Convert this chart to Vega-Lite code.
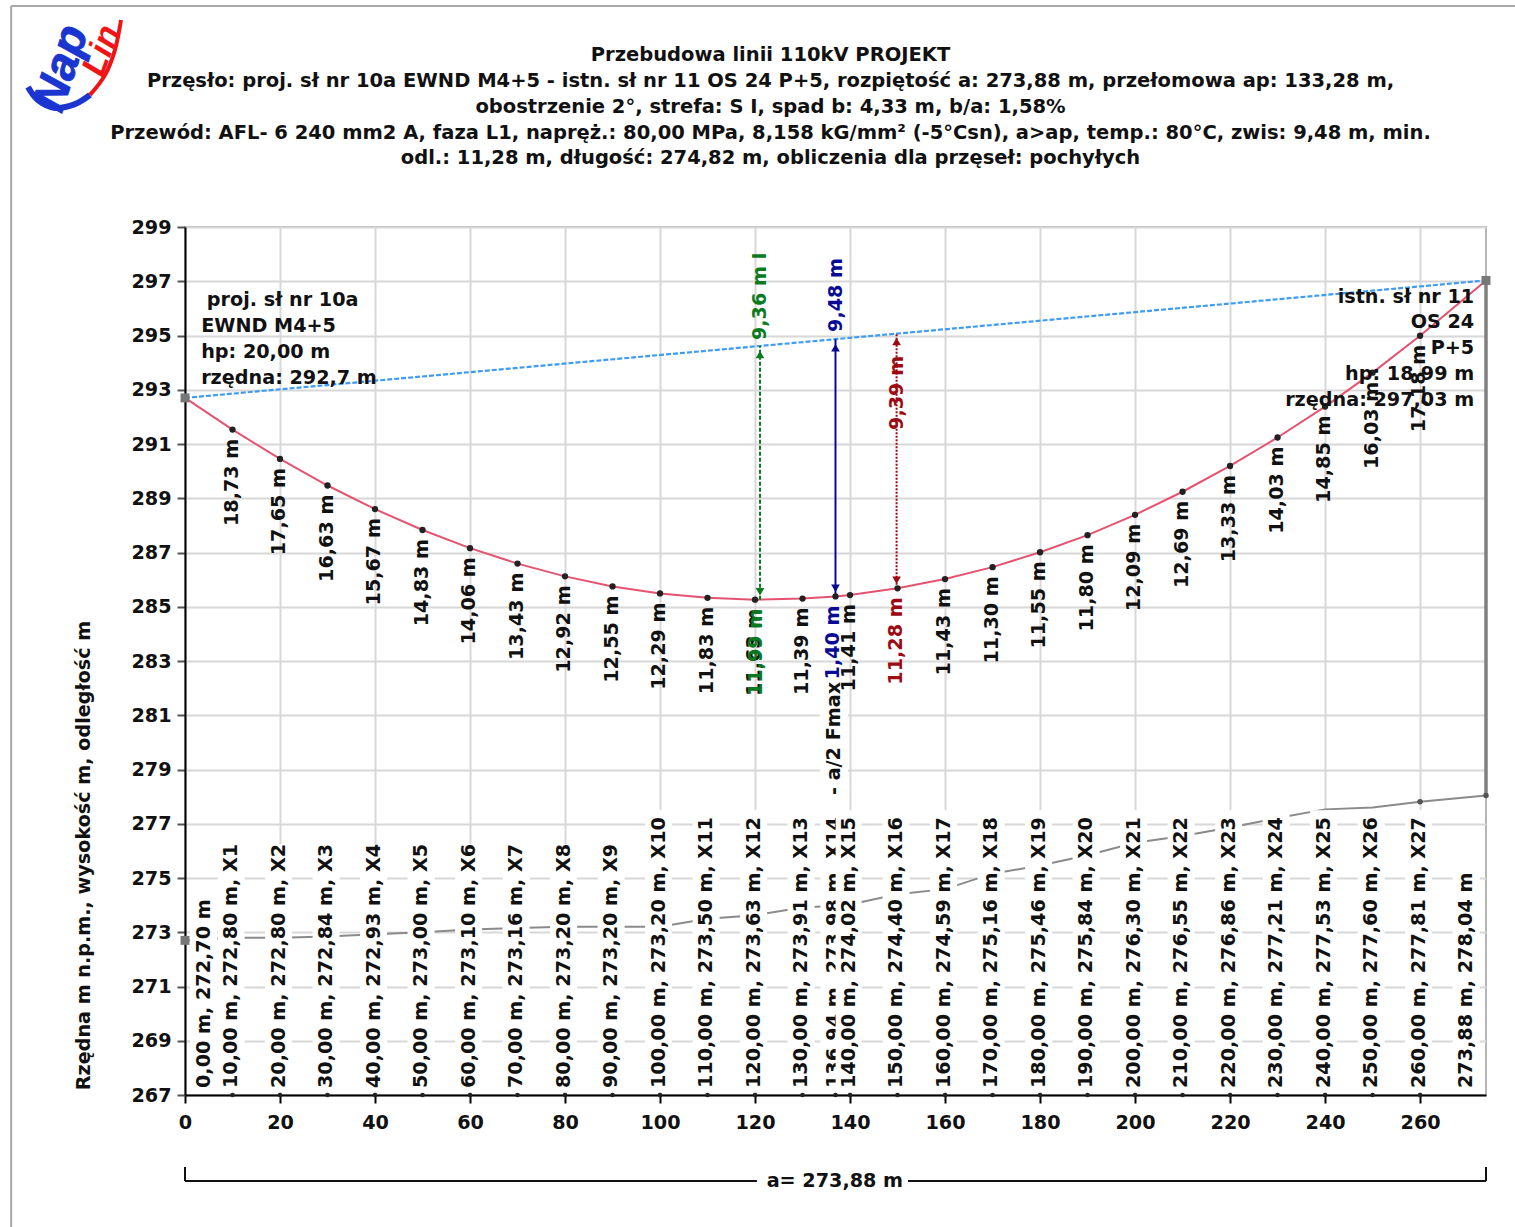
{
"$schema":"https://vega.github.io/schema/vega-lite/v6.json",
"autosize":{"type":"none"},
"padding":{"left":185,"top":227,"right":29,"bottom":132},
"width":1301,"height":868,
"background":"white",
"title":{"text":["Przebudowa linii 110kV PROJEKT","Przęsło: proj. sł nr 10a EWND M4+5 - istn. sł nr 11 OS 24 P+5, rozpiętość a: 273,88 m, przełomowa ap: 133,28 m,","obostrzenie 2°, strefa: S I, spad b: 4,33 m, b/a: 1,58%","Przewód: AFL- 6 240 mm2 A, faza L1, napręż.: 80,00 MPa, 8,158 kG/mm² (-5°Csn), a>ap, temp.: 80°C, zwis: 9,48 m, min.","odl.: 11,28 m, długość: 274,82 m, obliczenia dla przęseł: pochyłych"],"anchor":"middle","dx":-65,"offset":-164,"font":"DejaVu Sans","fontSize":19.5,"fontWeight":"bold","lineHeight":25.9,"color":"#111"},
"config":{"view":{"stroke":"#b5b5b5","strokeWidth":2},"text":{"font":"DejaVu Sans","fontWeight":"bold"}},
"datasets":{
"pts":[
{"x":0,"lx":3.9,"b":267,"bb":267.1,"g":272.70,"c":292.70,"l":"0,00 m, 272,70 m","t":274.2,"d":""},
{"x":10,"lx":9.7,"b":267,"bb":267.1,"g":272.80,"c":291.53,"l":"10,00 m, 272,80 m, X1","t":276.25,"d":"18,73 m"},
{"x":20,"lx":19.7,"b":267,"bb":267.1,"g":272.80,"c":290.45,"l":"20,00 m, 272,80 m, X2","t":276.25,"d":"17,65 m"},
{"x":30,"lx":29.7,"b":267,"bb":267.1,"g":272.84,"c":289.47,"l":"30,00 m, 272,84 m, X3","t":276.25,"d":"16,63 m"},
{"x":40,"lx":39.7,"b":267,"bb":267.1,"g":272.93,"c":288.60,"l":"40,00 m, 272,93 m, X4","t":276.25,"d":"15,67 m"},
{"x":50,"lx":49.7,"b":267,"bb":267.1,"g":273.00,"c":287.83,"l":"50,00 m, 273,00 m, X5","t":276.25,"d":"14,83 m"},
{"x":60,"lx":59.7,"b":267,"bb":267.1,"g":273.10,"c":287.16,"l":"60,00 m, 273,10 m, X6","t":276.25,"d":"14,06 m"},
{"x":70,"lx":69.7,"b":267,"bb":267.1,"g":273.16,"c":286.59,"l":"70,00 m, 273,16 m, X7","t":276.25,"d":"13,43 m"},
{"x":80,"lx":79.7,"b":267,"bb":267.1,"g":273.20,"c":286.12,"l":"80,00 m, 273,20 m, X8","t":276.25,"d":"12,92 m"},
{"x":90,"lx":89.7,"b":267,"bb":267.1,"g":273.20,"c":285.75,"l":"90,00 m, 273,20 m, X9","t":276.25,"d":"12,55 m"},
{"x":100,"lx":99.7,"b":267,"bb":267.1,"g":273.20,"c":285.49,"l":"100,00 m, 273,20 m, X10","t":277.5,"d":"12,29 m"},
{"x":110,"lx":109.7,"b":267,"bb":267.1,"g":273.50,"c":285.33,"l":"110,00 m, 273,50 m, X11","t":277.5,"d":"11,83 m"},
{"x":120,"lx":119.7,"b":267,"bb":267.1,"g":273.63,"c":285.26,"l":"120,00 m, 273,63 m, X12","t":277.5,"d":"11,63 m"},
{"x":130,"lx":129.7,"b":267,"bb":267.1,"g":273.91,"c":285.30,"l":"130,00 m, 273,91 m, X13","t":277.5,"d":"11,39 m"},
{"x":136.94,"lx":136.6,"b":267,"bb":267.1,"g":273.98,"c":285.38,"l":"136,94 m, 273,98 m, X14","t":277.5,"d":""},
{"x":140,"lx":139.7,"b":267,"bb":267.1,"g":274.02,"c":285.43,"l":"140,00 m, 274,02 m, X15","t":277.5,"d":"11,41 m"},
{"x":150,"lx":149.7,"b":267,"bb":267.1,"g":274.40,"c":285.68,"l":"150,00 m, 274,40 m, X16","t":277.5,"d":""},
{"x":160,"lx":159.7,"b":267,"bb":267.1,"g":274.59,"c":286.02,"l":"160,00 m, 274,59 m, X17","t":277.5,"d":"11,43 m"},
{"x":170,"lx":169.7,"b":267,"bb":267.1,"g":275.16,"c":286.46,"l":"170,00 m, 275,16 m, X18","t":277.5,"d":"11,30 m"},
{"x":180,"lx":179.7,"b":267,"bb":267.1,"g":275.46,"c":287.01,"l":"180,00 m, 275,46 m, X19","t":277.5,"d":"11,55 m"},
{"x":190,"lx":189.7,"b":267,"bb":267.1,"g":275.84,"c":287.64,"l":"190,00 m, 275,84 m, X20","t":277.5,"d":"11,80 m"},
{"x":200,"lx":199.7,"b":267,"bb":267.1,"g":276.30,"c":288.39,"l":"200,00 m, 276,30 m, X21","t":277.5,"d":"12,09 m"},
{"x":210,"lx":209.7,"b":267,"bb":267.1,"g":276.55,"c":289.24,"l":"210,00 m, 276,55 m, X22","t":277.5,"d":"12,69 m"},
{"x":220,"lx":219.7,"b":267,"bb":267.1,"g":276.86,"c":290.19,"l":"220,00 m, 276,86 m, X23","t":277.5,"d":"13,33 m"},
{"x":230,"lx":229.7,"b":267,"bb":267.1,"g":277.21,"c":291.24,"l":"230,00 m, 277,21 m, X24","t":277.5,"d":"14,03 m"},
{"x":240,"lx":239.7,"b":267,"bb":267.1,"g":277.53,"c":292.38,"l":"240,00 m, 277,53 m, X25","t":277.5,"d":"14,85 m"},
{"x":250,"lx":249.7,"b":267,"bb":267.1,"g":277.60,"c":293.63,"l":"250,00 m, 277,60 m, X26","t":277.5,"d":"16,03 m"},
{"x":260,"lx":259.7,"b":267,"bb":267.1,"g":277.81,"c":294.99,"l":"260,00 m, 277,81 m, X27","t":277.5,"d":"17,18 m"},
{"x":273.88,"lx":269.7,"b":267,"bb":267.1,"g":278.04,"c":297.03,"l":"273,88 m, 278,04 m","t":275.2,"d":""}
],
"frame":[
{"x":-36.6,"x2":280.5,"y":307.15,"y2":307.15},
{"x":-36.6,"x2":-36.6,"y":307.15,"y2":261}
],
"dim":[
{"x":0,"x2":120.4,"y":263.83,"y2":263.83},
{"x":152.2,"x2":273.88,"y":263.83,"y2":263.83},
{"x":0,"x2":0,"y":264.35,"y2":263.83},
{"x":273.88,"x2":273.88,"y":264.35,"y2":263.83}
],
"up":[
{"x":121.05,"y":294.83,"t":"9,36 m I","s":"green"},
{"x":136.94,"y":295.13,"t":"9,48 m","s":"blue"},
{"x":149.8,"y":291.52,"t":"9,39 m","s":"red"},
{"x":136.6,"y":278.06,"t":"- a/2 Fmax","s":"black"}
],
"down":[
{"x":120.3,"y":285.26,"t":"11,99 m","s":"green"},
{"x":136.5,"y":285.38,"t":"1,40 m","s":"blue"},
{"x":149.7,"y":285.68,"t":"11,28 m","s":"red"}
],
"left":[
{"x":4.6,"y":296.31,"t":"proj. sł nr 10a"},
{"x":3.4,"y":295.35,"t":"EWND M4+5"},
{"x":3.4,"y":294.39,"t":"hp: 20,00 m"},
{"x":3.4,"y":293.43,"t":"rzędna: 292,7 m"}
],
"right":[
{"x":271.4,"y":296.42,"t":"istn. sł nr 11"},
{"x":271.4,"y":295.5,"t":"OS 24"},
{"x":271.4,"y":294.54,"t":"P+5"},
{"x":271.4,"y":293.58,"t":"hp: 18,99 m"},
{"x":271.4,"y":292.62,"t":"rzędna: 297,03 m"}
],
"swoosh":[
{"x":-33.05,"y":304.16,"s":"b"},{"x":-30.95,"y":303.68,"s":"b"},{"x":-27.37,"y":303.39,"s":"b"},{"x":-23.16,"y":303.53,"s":"b"},{"x":-20,"y":303.87,"s":"b"},
{"x":-20,"y":303.87,"s":"r"},{"x":-16.84,"y":304.6,"s":"r"},{"x":-14.74,"y":305.53,"s":"r"},{"x":-13.47,"y":306.63,"s":"r"}
]
},
"layer":[
{"data":{"name":"frame"},"mark":{"type":"rule","color":"#a8a8a8","strokeWidth":2},"encoding":{
"x":{"field":"x","type":"quantitative","scale":{"domain":[0,273.88],"nice":false,"zero":false},
"axis":{"values":[0,20,40,60,80,100,120,140,160,180,200,220,240,260],"title":null,"format":"d","grid":true,"gridColor":"#d8d8d8","gridWidth":2,"domainColor":"black","domainWidth":2,"tickColor":"black","tickWidth":2,"tickSize":8,"labelFont":"DejaVu Sans","labelFontWeight":"bold","labelFontSize":19.2,"labelColor":"#111","labelPadding":10,"labelFlush":false,"labelOverlap":false}},
"y":{"field":"y","type":"quantitative","scale":{"domain":[267,299],"nice":false,"zero":false},
"axis":{"values":[267,269,271,273,275,277,279,281,283,285,287,289,291,293,295,297,299],"title":"Rzędna m n.p.m., wysokość m, odległość m","titleX":-92,"titleY":628,"titleFont":"DejaVu Sans","titleFontWeight":"bold","titleFontSize":19.2,"titleColor":"#111","format":"d","grid":true,"gridColor":"#d8d8d8","gridWidth":2,"domainColor":"black","domainWidth":2,"tickColor":"#555","tickWidth":2,"tickSize":8,"labelFont":"DejaVu Sans","labelFontWeight":"bold","labelFontSize":19.2,"labelColor":"#111","labelPadding":6,"labelOverlap":false}},
"x2":{"field":"x2"},"y2":{"field":"y2"}}},
{"data":{"name":"pts"},"mark":{"type":"line","color":"#8a8a8a","strokeWidth":2},"encoding":{"x":{"field":"x","type":"quantitative"},"y":{"field":"g","type":"quantitative"}}},
{"data":{"name":"pts"},"transform":[{"filter":"datum.x != 140"}],"mark":{"type":"rule","color":"white","strokeWidth":27},"encoding":{"x":{"field":"lx","type":"quantitative"},"y":{"field":"bb","type":"quantitative"},"y2":{"field":"t"}}},
{"data":{"values":[{"x":136.6,"y":278.2,"y2":282}]},"mark":{"type":"rule","color":"white","strokeWidth":28},"encoding":{"x":{"field":"x","type":"quantitative"},"y":{"field":"y","type":"quantitative"},"y2":{"field":"y2"}}},
{"data":{"name":"pts"},"transform":[{"filter":"datum.x != 140"}],"mark":{"type":"text","angle":270,"align":"left","baseline":"middle","dx":7,"fontSize":19.2,"color":"#111"},"encoding":{"x":{"field":"lx","type":"quantitative"},"y":{"field":"b","type":"quantitative"},"text":{"field":"l","type":"nominal"}}},
{"data":{"name":"pts"},"transform":[{"filter":"datum.x == 140"}],"mark":{"type":"rule","color":"white","strokeWidth":26},"encoding":{"x":{"field":"lx","type":"quantitative"},"y":{"field":"bb","type":"quantitative"},"y2":{"field":"t"}}},
{"data":{"name":"pts"},"transform":[{"filter":"datum.x == 140"}],"mark":{"type":"text","angle":270,"align":"left","baseline":"middle","dx":7,"fontSize":19.2,"color":"#111"},"encoding":{"x":{"field":"lx","type":"quantitative"},"y":{"field":"b","type":"quantitative"},"text":{"field":"l","type":"nominal"}}},
{"data":{"values":[{"x":273.88,"y":297.03,"y2":278.04}]},"mark":{"type":"rule","color":"#808080","strokeWidth":3.5},"encoding":{"x":{"field":"x","type":"quantitative"},"y":{"field":"y","type":"quantitative"},"y2":{"field":"y2"}}},
{"data":{"values":[{"x":0,"y":292.7},{"x":273.88,"y":297.03}]},"mark":{"type":"line","color":"#3f9cf2","strokeWidth":2.2,"strokeDash":[5,2]},"encoding":{"x":{"field":"x","type":"quantitative"},"y":{"field":"y","type":"quantitative"}}},
{"data":{"name":"pts"},"mark":{"type":"line","color":"#e4536f","strokeWidth":2},"encoding":{"x":{"field":"x","type":"quantitative"},"y":{"field":"c","type":"quantitative"}}},
{"data":{"values":[{"x":121.05,"y":285.26,"y2":294.62}]},"mark":{"type":"rule","strokeWidth":2,"color":"#0a7a1e","strokeDash":[4,2]},"encoding":{"x":{"field":"x","type":"quantitative"},"y":{"field":"y","type":"quantitative"},"y2":{"field":"y2"}}},
{"data":{"values":[{"x":136.94,"y":285.38,"y2":294.86}]},"mark":{"type":"rule","strokeWidth":2,"color":"#0a0a96"},"encoding":{"x":{"field":"x","type":"quantitative"},"y":{"field":"y","type":"quantitative"},"y2":{"field":"y2"}}},
{"data":{"values":[{"x":149.8,"y":285.68,"y2":295.07}]},"mark":{"type":"rule","strokeWidth":2,"color":"#9c0a14","strokeDash":[2,1.5]},"encoding":{"x":{"field":"x","type":"quantitative"},"y":{"field":"y","type":"quantitative"},"y2":{"field":"y2"}}},
{"data":{"name":"pts"},"transform":[{"filter":"datum.x > 0 && datum.x < 273"}],"mark":{"type":"point","filled":true,"size":40,"color":"#222","opacity":1},"encoding":{"x":{"field":"x","type":"quantitative"},"y":{"field":"c","type":"quantitative"}}},
{"data":{"name":"pts"},"transform":[{"filter":"datum.x > 0 && datum.x < 273"}],"mark":{"type":"point","filled":true,"size":22,"color":"#222","opacity":1},"encoding":{"x":{"field":"x","type":"quantitative"},"y":{"field":"b","type":"quantitative"}}},
{"data":{"values":[{"x":121.05,"y":294.3},{"x":136.94,"y":294.55},{"x":149.8,"y":294.78}]},"mark":{"type":"point","filled":true,"size":75,"opacity":1,"shape":"triangle-up"},"encoding":{"x":{"field":"x","type":"quantitative"},"y":{"field":"y","type":"quantitative"},"color":{"field":"x","type":"nominal","scale":{"domain":[121.05,136.94,149.8],"range":["#0a7a1e","#0a0a96","#9c0a14"]},"legend":null}}},
{"data":{"values":[{"x":121.05,"y":285.55},{"x":136.94,"y":285.68},{"x":149.8,"y":285.98}]},"mark":{"type":"point","filled":true,"size":75,"opacity":1,"shape":"triangle-down"},"encoding":{"x":{"field":"x","type":"quantitative"},"y":{"field":"y","type":"quantitative"},"color":{"field":"x","type":"nominal","scale":{"domain":[121.05,136.94,149.8],"range":["#0a7a1e","#0a0a96","#9c0a14"]},"legend":null}}},
{"data":{"values":[{"x":0,"y":292.7},{"x":273.88,"y":297.03},{"x":0,"y":272.7}]},"mark":{"type":"square","size":80,"color":"#777","opacity":1},"encoding":{"x":{"field":"x","type":"quantitative"},"y":{"field":"y","type":"quantitative"}}},
{"data":{"values":[{"x":260,"y":277.81},{"x":273.88,"y":278.04}]},"mark":{"type":"point","filled":true,"size":30,"color":"#555","opacity":1},"encoding":{"x":{"field":"x","type":"quantitative"},"y":{"field":"y","type":"quantitative"}}},
{"data":{"name":"pts"},"mark":{"type":"text","angle":270,"align":"right","baseline":"middle","dx":-9,"dy":-1,"fontSize":19.2,"color":"#111"},"encoding":{"x":{"field":"x","type":"quantitative"},"y":{"field":"c","type":"quantitative"},"text":{"field":"d","type":"nominal"}}},
{"data":{"name":"up"},"transform":[{"filter":"datum.s == 'green'"}],"mark":{"type":"text","angle":270,"align":"left","baseline":"middle","fontSize":19.2,"color":"#0a7a1e"},"encoding":{"x":{"field":"x","type":"quantitative"},"y":{"field":"y","type":"quantitative"},"text":{"field":"t","type":"nominal"}}},
{"data":{"name":"up"},"transform":[{"filter":"datum.s == 'blue'"}],"mark":{"type":"text","angle":270,"align":"left","baseline":"middle","fontSize":19.2,"color":"#0a0a96"},"encoding":{"x":{"field":"x","type":"quantitative"},"y":{"field":"y","type":"quantitative"},"text":{"field":"t","type":"nominal"}}},
{"data":{"name":"up"},"transform":[{"filter":"datum.s == 'red'"}],"mark":{"type":"text","angle":270,"align":"left","baseline":"middle","fontSize":19.2,"color":"#9c0a14"},"encoding":{"x":{"field":"x","type":"quantitative"},"y":{"field":"y","type":"quantitative"},"text":{"field":"t","type":"nominal"}}},
{"data":{"name":"up"},"transform":[{"filter":"datum.s == 'black'"}],"mark":{"type":"text","angle":270,"align":"left","baseline":"middle","fontSize":19.2,"color":"#111"},"encoding":{"x":{"field":"x","type":"quantitative"},"y":{"field":"y","type":"quantitative"},"text":{"field":"t","type":"nominal"}}},
{"data":{"name":"down"},"transform":[{"filter":"datum.s == 'green'"}],"mark":{"type":"text","angle":270,"align":"right","baseline":"middle","dx":-9,"fontSize":19.2,"color":"#0a7a1e"},"encoding":{"x":{"field":"x","type":"quantitative"},"y":{"field":"y","type":"quantitative"},"text":{"field":"t","type":"nominal"}}},
{"data":{"name":"down"},"transform":[{"filter":"datum.s == 'blue'"}],"mark":{"type":"text","angle":270,"align":"right","baseline":"middle","dx":-9,"fontSize":19.2,"color":"#0a0a96"},"encoding":{"x":{"field":"x","type":"quantitative"},"y":{"field":"y","type":"quantitative"},"text":{"field":"t","type":"nominal"}}},
{"data":{"name":"down"},"transform":[{"filter":"datum.s == 'red'"}],"mark":{"type":"text","angle":270,"align":"right","baseline":"middle","dx":-9,"fontSize":19.2,"color":"#9c0a14"},"encoding":{"x":{"field":"x","type":"quantitative"},"y":{"field":"y","type":"quantitative"},"text":{"field":"t","type":"nominal"}}},
{"data":{"name":"left"},"mark":{"type":"text","align":"left","baseline":"middle","fontSize":19.2,"color":"#111"},"encoding":{"x":{"field":"x","type":"quantitative"},"y":{"field":"y","type":"quantitative"},"text":{"field":"t","type":"nominal"}}},
{"data":{"name":"right"},"mark":{"type":"text","align":"right","baseline":"middle","fontSize":19.2,"color":"#111"},"encoding":{"x":{"field":"x","type":"quantitative"},"y":{"field":"y","type":"quantitative"},"text":{"field":"t","type":"nominal"}}},
{"data":{"name":"dim"},"mark":{"type":"rule","color":"#111","strokeWidth":2},"encoding":{"x":{"field":"x","type":"quantitative"},"x2":{"field":"x2"},"y":{"field":"y","type":"quantitative"},"y2":{"field":"y2"}}},
{"data":{"values":[{"x":136.8,"y":263.83,"t":"a= 273,88 m"}]},"mark":{"type":"text","align":"center","baseline":"middle","fontSize":19.2,"color":"#111"},"encoding":{"x":{"field":"x","type":"quantitative"},"y":{"field":"y","type":"quantitative"},"text":{"field":"t","type":"nominal"}}},
{"data":{"name":"swoosh"},"transform":[{"filter":"datum.s == 'b'"}],"mark":{"type":"line","color":"#1a35d0","strokeWidth":6,"interpolate":"cardinal"},"encoding":{"x":{"field":"x","type":"quantitative"},"y":{"field":"y","type":"quantitative"}}},
{"data":{"name":"swoosh"},"transform":[{"filter":"datum.s == 'r'"}],"mark":{"type":"line","color":"#f01414","strokeWidth":4,"interpolate":"cardinal"},"encoding":{"x":{"field":"x","type":"quantitative"},"y":{"field":"y","type":"quantitative"}}},
{"data":{"values":[{"x":-26,"y":304.85,"t":"Nap"}]},"mark":{"type":"text","angle":288,"align":"center","baseline":"middle","font":"Liberation Sans","fontStyle":"italic","fontSize":46,"stroke":"#1a35d0","strokeWidth":1,"color":"#1a35d0"},"encoding":{"x":{"field":"x","type":"quantitative"},"y":{"field":"y","type":"quantitative"},"text":{"field":"t","type":"nominal"}}},
{"data":{"values":[{"x":-17.5,"y":305.5,"t":"Lin"}]},"mark":{"type":"text","angle":290,"align":"center","baseline":"middle","font":"Liberation Sans","fontStyle":"italic","fontSize":34,"color":"#f01414"},"encoding":{"x":{"field":"x","type":"quantitative"},"y":{"field":"y","type":"quantitative"},"text":{"field":"t","type":"nominal"}}}
]
}
